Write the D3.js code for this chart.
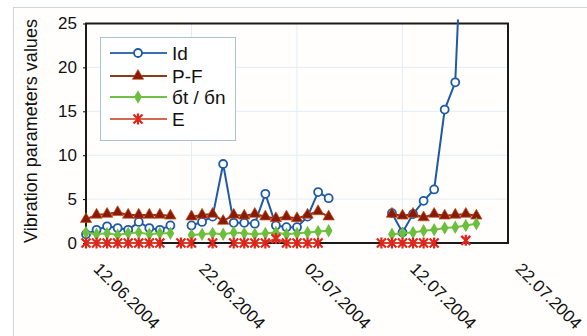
<!DOCTYPE html>
<html lang="en">
<head>
<meta charset="UTF-8">
<title>Vibration parameters</title>
<script src="https://cdn.jsdelivr.net/npm/d3@7"></script>
<style>
    body { margin: 0; background: #fff; }
    svg text { font-family: "Liberation Sans", Arial, sans-serif; fill: #111; }
</style>
</head>
<body>
<svg id="svg" width="587" height="336"></svg>
<script>
    // one value per day starting 12.06.2004, null = no measurement
    const startDay = "12.06.2004";
    const tickLabels = ["12.06.2004", "22.06.2004", "02.07.2004", "12.07.2004", "22.07.2004"];
    const yTicks = [0, 5, 10, 15, 20, 25];

    const idValues = [1.0, 1.5, 1.9, 1.7, 1.5, 2.4, 1.7, 1.5, 2.0, null,
        2.0, 2.4, 3.0, 9.0, 2.3, 2.3, 2.2, 5.6, 2.0, 1.8, 1.8, 3.0, 5.8, 5.1,
        null, null, null, null, null,
        3.4, 1.2, 3.3, 4.8, 6.1, 15.2, 18.3, 46, null];
    const pfValues = [2.7, 3.2, 3.3, 3.5, 3.2, 3.2, 3.2, 3.2, 3.1, null,
        3.0, 3.2, 3.3, 2.5, 3.2, 3.1, 3.3, 3.0, 2.8, 3.0, 2.8, 3.2, 3.6, 3.0,
        null, null, null, null, null,
        3.3, 3.1, 3.3, 2.9, 3.3, 3.1, 3.2, 3.3, 3.1];
    const sigmaValues = [1.2, 1.0, 1.1, 0.9, 1.1, 1.2, 1.0, 1.1, 1.1, null,
        0.9, 1.0, 1.1, 1.0, 1.2, 1.1, 1.0, 1.1, 1.2, 1.0, 1.1, 1.2, 1.3, 1.4,
        null, null, null, null, null,
        1.0, 1.1, 1.2, 1.4, 1.5, 1.7, 1.8, 2.0, 2.2];
    const eValues = [0, 0, 0, 0, 0, 0, 0, 0, null, 0,
        0, null, 0, null, 0, 0, 0, 0, 0.5, 0, 0, 0, 0, null,
        null, null, null, null, 0,
        0, 0, 0, 0, 0, null, null, 0.3, null];

    const seriesNames = ["Id", "P-F", "бt / бn", "E"];

    const parse = d3.timeParse("%d.%m.%Y");
    const fmt = d3.timeFormat("%d.%m.%Y");
    const t0 = parse(startDay);

    const svg = d3.select("#svg");

    const plotLeft = 86, plotRight = 508, plotTop = 23.5, plotBottom = 243;

    const x = d3.scaleTime()
        .domain([parse(tickLabels[0]), parse(tickLabels[tickLabels.length - 1])])
        .range([plotLeft, plotRight]);
    const y = d3.scaleLinear().domain([0, 25]).range([plotBottom, plotTop]);

    // chart area frame
    svg.append("rect")
        .attr("x", 13.5).attr("y", 7.5)
        .attr("width", 700).attr("height", 400)
        .attr("fill", "#fffefc")
        .attr("stroke", "#cdd6da");

    // grid
    svg.append("g")
        .selectAll("line")
        .data(yTicks.slice(1, -1))
        .join("line")
        .attr("x1", plotLeft).attr("x2", plotRight)
        .attr("y1", d => y(d)).attr("y2", d => y(d))
        .attr("stroke", "#e2edf4");
    svg.append("g")
        .selectAll("line")
        .data(tickLabels.slice(1, -1).map(parse))
        .join("line")
        .attr("x1", d => x(d)).attr("x2", d => x(d))
        .attr("y1", plotTop).attr("y2", plotBottom)
        .attr("stroke", "#e2edf4");

    // axes
    const yAxis = svg.append("g")
        .attr("transform", `translate(${plotLeft},0)`)
        .call(d3.axisLeft(y).tickValues(yTicks).tickSize(3).tickPadding(6));
    yAxis.select(".domain").remove();
    yAxis.selectAll("text").style("font-size", "17px").attr("fill", "#111");

    const xAxis = svg.append("g")
        .attr("transform", `translate(0,${plotBottom})`)
        .call(d3.axisBottom(x).tickValues(tickLabels.map(parse)).tickFormat(fmt).tickSize(0));
    xAxis.select(".domain").remove();
    xAxis.selectAll("text")
        .attr("x", 0).attr("y", 0).attr("dy", 0)
        .attr("transform", "translate(6,27) rotate(45)")
        .style("text-anchor", "start")
        .style("font-size", "17px")
        .attr("fill", "#111");

    svg.append("text")
        .attr("transform", "translate(37,131) rotate(-90)")
        .attr("text-anchor", "middle")
        .style("font-size", "18px")
        .text("Vibration parameters values");

    // plot border
    svg.append("rect")
        .attr("x", plotLeft).attr("y", plotTop)
        .attr("width", plotRight - plotLeft).attr("height", plotBottom - plotTop)
        .attr("fill", "none")
        .attr("stroke", "#1a1a1a")
        .attr("stroke-width", 2);

    svg.append("clipPath").attr("id", "clip")
        .append("rect")
        .attr("x", plotLeft - 6).attr("y", plotTop - 4)
        .attr("width", plotRight - plotLeft + 12).attr("height", plotBottom - plotTop + 12);

    const plot = svg.append("g").attr("clip-path", "url(#clip)");

    const asterisk = "M-4.5,-4.5L4.5,4.5M-4.5,4.5L4.5,-4.5M0,-5.5L0,5.5";

    const styles = [
        {values: idValues, line: "#1f5aa6", legendLine: "#3a6fb6", marker: "circle"},
        {values: pfValues, line: "#8e2e12", legendLine: "#8c3a1c", marker: "triangle", fill: "#8a1a08"},
        {values: sigmaValues, line: "#76c043", legendLine: "#70c04a", marker: "diamond", fill: "#6cbf3c"},
        {values: eValues, line: "#c2482e", legendLine: "#cf6a4e", marker: "asterisk", fill: "#e3231a"}
    ];

    function drawMarker(g, s) {
        if (s.marker === "circle") {
            g.append("circle").attr("r", 4)
                .attr("fill", "#fff").attr("stroke", s.line).attr("stroke-width", 1.8);
        } else if (s.marker === "triangle") {
            g.append("path").attr("d", d3.symbol(d3.symbolTriangle, 56)())
                .attr("fill", s.fill).attr("stroke", "#c0501e").attr("stroke-width", 0.7);
        } else if (s.marker === "diamond") {
            g.append("path").attr("d", d3.symbol(d3.symbolDiamond, 52)())
                .attr("fill", s.fill);
        } else {
            g.append("path").attr("d", asterisk)
                .attr("fill", "none").attr("stroke", s.fill).attr("stroke-width", 2.2);
        }
    }

    const day = i => d3.timeDay.offset(t0, i);

    styles.forEach(s => {
        const pts = s.values.map((v, i) => ({date: day(i), v: v}));
        const line = d3.line()
            .defined(d => d.v !== null)
            .x(d => x(d.date))
            .y(d => y(d.v));
        plot.append("path")
            .datum(pts)
            .attr("d", line)
            .attr("fill", "none")
            .attr("stroke", s.line)
            .attr("stroke-width", 2);
        pts.filter(d => d.v !== null && d.v <= 25).forEach(d => {
            const g = plot.append("g").attr("transform", `translate(${x(d.date)},${y(d.v)})`);
            drawMarker(g, s);
        });
    });

    // legend
    const legend = svg.append("g");
    legend.append("rect")
        .attr("x", 100.5).attr("y", 37.5)
        .attr("width", 135).attr("height", 103)
        .attr("fill", "#fff")
        .attr("stroke", "#a9c2ce");
    const legendY = [53, 76, 97, 119];
    seriesNames.forEach((name, i) => {
        const s = styles[i];
        const yy = legendY[i];
        legend.append("line")
            .attr("x1", 110).attr("x2", 167)
            .attr("y1", yy).attr("y2", yy)
            .attr("stroke", s.legendLine).attr("stroke-width", 2);
        const g = legend.append("g").attr("transform", `translate(138,${yy})`);
        drawMarker(g, s);
        legend.append("text")
            .attr("x", 172).attr("y", yy)
            .attr("dy", "0.36em")
            .style("font-size", "19px")
            .text(name);
    });
</script>
</body>
</html>
